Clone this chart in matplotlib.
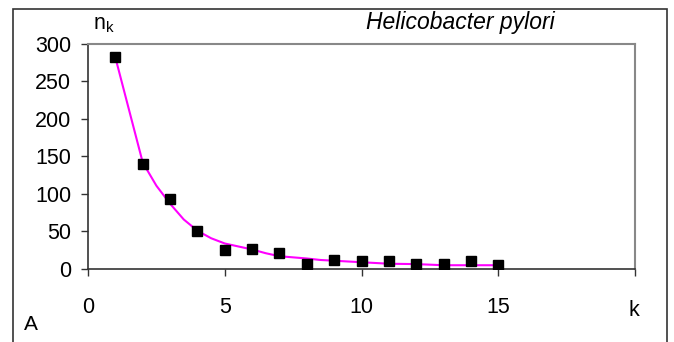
import numpy as np
import matplotlib.pyplot as plt
from matplotlib.patches import Rectangle

plt.rcParams['font.family'] = ['Liberation Sans', 'DejaVu Sans']

# observed counts n_k
k_obs = [1, 2, 3, 4, 5, 6, 7, 8, 9, 10, 11, 12, 13, 14, 15]
n_obs = [282, 140, 93, 50, 25, 26, 21, 7, 12, 10, 10, 7, 7, 11, 5]

# fitted curve
k_fit = [1, 1.5, 2, 2.5, 3, 3.5, 4, 4.5, 5, 5.5, 6, 6.5, 7, 7.5, 8, 8.5,
         9, 9.5, 10, 11, 12, 13, 14, 15]
n_fit = [282, 212, 142, 111, 87, 66, 51, 41, 34, 30, 26, 21, 17, 15.5, 14, 12,
         11, 10, 9, 7, 6.5, 5, 5, 5]

fig = plt.figure(figsize=(6.74, 3.42), dpi=100)
ax = fig.add_axes([0.1306, 0.2135, 0.8116, 0.6579])

ax.plot(k_fit, n_fit, color='#ff00ff', lw=1.5, zorder=2)
ax.plot(k_obs, n_obs, 's', color='black', ms=6.5, zorder=3)

ax.set_xlim(0, 20)
ax.set_ylim(0, 300)
ax.set_xticks([0, 5, 10, 15, 20])
ax.set_xticklabels(['0', '5', '10', '15', ''])
ax.set_yticks(np.arange(0, 301, 50))

for side in ['left', 'bottom']:
    ax.spines[side].set_color('#333333')
    ax.spines[side].set_linewidth(1.2)
for side in ['top', 'right']:
    ax.spines[side].set_color('#888888')
    ax.spines[side].set_linewidth(1.5)

ax.tick_params(axis='y', direction='out', length=5, width=1, color='#333333',
               labelsize=15.5, pad=7)
ax.tick_params(axis='x', direction='out', length=5, width=1, color='#333333',
               labelsize=15.5, pad=15)

fig.text(634 / 674, 1 - 310 / 342, 'k', fontsize=15.5, ha='center', va='center')
fig.text(31 / 674, 1 - 324 / 342, 'A', fontsize=15, ha='center', va='center')
fig.text(93 / 674, 1 - 25 / 342, r'n$_{\mathregular{k}}$', fontsize=15.5,
         ha='left', va='center')
fig.text(460 / 674, 1 - 22 / 342, 'Helicobacter pylori', fontsize=16.5,
         style='italic', ha='center', va='center')

# frame around the whole chart
fig.patches.append(Rectangle((13 / 674, -0.05), 654 / 674, 1 - 9 / 342 + 0.05,
                             transform=fig.transFigure, fill=False,
                             edgecolor='#333333', lw=1.2))

fig.savefig('out.png', dpi=100)
